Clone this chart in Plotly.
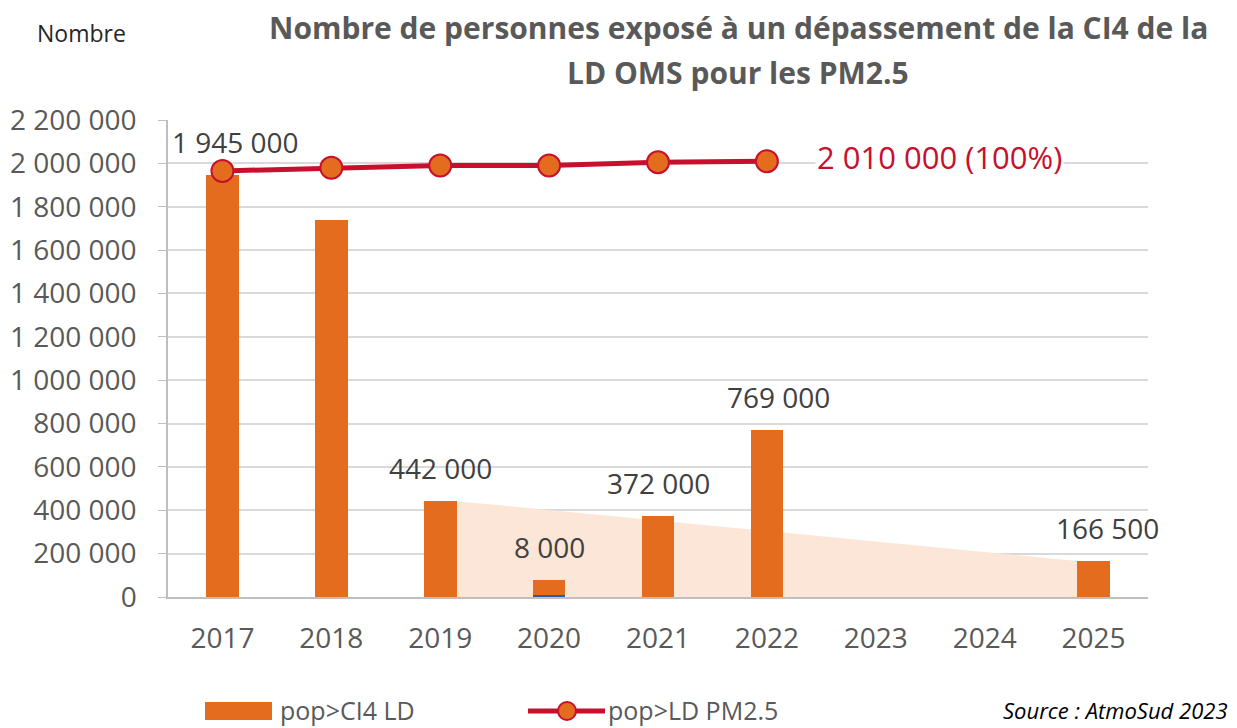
import plotly.graph_objects as go

years = [2017, 2018, 2019, 2020, 2021, 2022, 2023, 2024, 2025]
pop_ci4 = [1945000, 1740000, 442000, 70000, 372000, 769000, None, None, 166500]
pop_blue = [None, None, None, 8000, None, None, None, None, None]
line_years = [2017, 2018, 2019, 2020, 2021, 2022]
pop_ld = [1965000, 1980000, 1990000, 1990000, 2005000, 2010000]
bar_labels = {2017: "1 945 000", 2019: "442 000", 2020: "8 000", 2021: "372 000", 2022: "769 000", 2025: "166 500"}
label_shift = {2017: 13, 2019: 0, 2020: 0, 2021: 0, 2022: 12, 2025: 14}
trend_start, trend_end = 2019, 2025
ytick_vals = list(range(0, 2200001, 200000))
ytick_text = ["0"] + [f"{v:,}".replace(",", " ") for v in ytick_vals[1:]]
legend_names = ["pop>CI4 LD", "pop>LD PM2.5"]

ORANGE = "#E36C1E"
RED = "#C8102E"
BLUE = "#2E5C9E"
PEACH = "#FBE6D8"
GRAY_TXT = "#595959"
FONT = "Open Sans"
BW = 0.3

# page has an 8px body margin: build the figure 8px smaller and express positions in screen coords
OFF = 8
W, H = 1237 - OFF, 728 - OFF
L, T = 168 - OFF, 120 - OFF
R, B = 1237 - 1148, 728 - 597
PW, PH = W - L - R, H - T - B


def px(x):
    return (x - OFF - L) / PW


def py(y):
    return (H - B - (y - OFF)) / PH


fig = go.Figure()

# trend area between 2019 and 2025 bar tops, behind bars
i0, i1 = years.index(trend_start), years.index(trend_end)
xa, xb = trend_start + BW / 2, trend_end - BW / 2
path = f"M {xa},{pop_ci4[i0]} L {xb},{pop_ci4[i1]} L {xb},0 L {xa},0 Z"
fig.add_shape(type="path", path=path, xref="x", yref="y", fillcolor=PEACH,
              line=dict(width=0), layer="between")

fig.add_trace(go.Bar(x=years, y=pop_blue, width=BW, marker=dict(color=BLUE, line=dict(width=0)),
                     showlegend=False))
fig.add_trace(go.Bar(x=years, y=pop_ci4, width=BW, marker=dict(color=ORANGE, line=dict(width=0)),
                     name=legend_names[0], showlegend=False))
fig.add_trace(go.Scatter(x=line_years, y=pop_ld, mode="lines+markers", name=legend_names[1],
                         line=dict(color=RED, width=5), showlegend=False,
                         marker=dict(size=22, color=ORANGE, line=dict(color=RED, width=2))))

for yr, txt in bar_labels.items():
    i = years.index(yr)
    val = pop_ci4[i] + (pop_blue[i] or 0)
    fig.add_annotation(x=yr, y=val, text=txt, showarrow=False, yanchor="bottom", yshift=12,
                       xshift=label_shift[yr], font=dict(family=FONT, size=28, color="#404040"))

fig.add_annotation(x=line_years[-1], y=pop_ld[-1], text="2 010 000 (100%)", showarrow=False,
                   xanchor="left", xshift=48, yshift=4, bgcolor="white",
                   font=dict(family=FONT, size=31, color=RED))

fig.update_layout(
    barmode="stack",
    width=W, height=H,
    margin=dict(l=L, r=R, t=T, b=B, autoexpand=False),
    paper_bgcolor="white", plot_bgcolor="white",
    showlegend=False,
)
fig.update_xaxes(range=[2016.5, 2025.5], tickvals=years, ticktext=[str(y) for y in years],
                 showgrid=False, showline=True, linecolor="#BFBFBF", linewidth=1.5,
                 ticks="outside", ticklen=16, tickcolor="rgba(0,0,0,0)", automargin=False,
                 tickfont=dict(family=FONT, size=28, color=GRAY_TXT), zeroline=False)
fig.update_yaxes(range=[0, 2200000], tickvals=ytick_vals, ticktext=ytick_text,
                 showgrid=True, gridcolor="#D9D9D9", gridwidth=1.5,
                 showline=True, linecolor="#BFBFBF", linewidth=1.5, automargin=False,
                 ticks="outside", ticklen=8, tickcolor="#BFBFBF", ticklabelstandoff=16,
                 tickfont=dict(family=FONT, size=28, color=GRAY_TXT), zeroline=False)

# title (two lines)
for txt, yc in [("Nombre de personnes exposé à un dépassement de la CI4 de la", 27),
                ("LD OMS pour les PM2.5", 73)]:
    fig.add_annotation(text=f"<b>{txt}</b>", xref="paper", yref="paper", x=px(738), y=py(yc),
                       xanchor="center", yanchor="middle", showarrow=False,
                       font=dict(family=FONT, size=30, color=GRAY_TXT))

fig.add_annotation(text="Nombre", xref="paper", yref="paper", x=px(35), y=py(33), showarrow=False,
                   xanchor="left", yanchor="middle", font=dict(family=FONT, size=23, color="#262626"))
fig.add_annotation(text="<i>Source : AtmoSud 2023</i>", xref="paper", yref="paper",
                   x=px(1230), y=py(710), xanchor="right", yanchor="middle", showarrow=False,
                   font=dict(family=FONT, size=22, color="#000000"))

# legend drawn manually
fig.add_shape(type="rect", xref="paper", yref="paper", x0=px(205), x1=px(272), y0=py(702), y1=py(720),
              fillcolor=ORANGE, line=dict(width=0))
fig.add_annotation(text=legend_names[0], xref="paper", yref="paper", x=px(278), y=py(710),
                   xanchor="left", yanchor="middle", showarrow=False,
                   font=dict(family=FONT, size=25, color=GRAY_TXT))
fig.add_shape(type="line", xref="paper", yref="paper", x0=px(528), x1=px(605), y0=py(711), y1=py(711),
              line=dict(color=RED, width=5))
fig.add_shape(type="circle", xref="paper", yref="paper", x0=px(558), x1=px(576),
              y0=py(702), y1=py(720), fillcolor=ORANGE, line=dict(color=RED, width=2))
fig.add_annotation(text=legend_names[1], xref="paper", yref="paper", x=px(606), y=py(710),
                   xanchor="left", yanchor="middle", showarrow=False,
                   font=dict(family=FONT, size=25, color=GRAY_TXT))

fig.write_html("out.html")
